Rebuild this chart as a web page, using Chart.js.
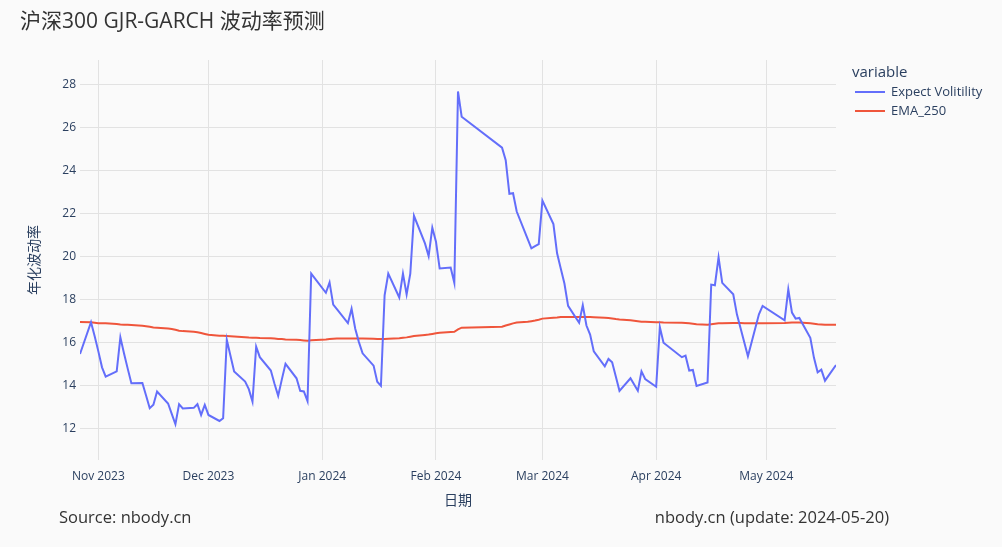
<!DOCTYPE html>
<html>
<head>
<meta charset="utf-8">
<script src="https://cdn.jsdelivr.net/npm/chart.js@4"></script>
<style>
    body { margin: 0; background: #fafafa; }
    canvas { display: block; }
</style>
</head>
<body>
<canvas id="volChart" width="1002" height="547"></canvas>
<script>
// trading days shown in the chart
const dates = [
    "2023-10-27", "2023-10-30", "2023-10-31", "2023-11-01", "2023-11-02", "2023-11-03",
    "2023-11-06", "2023-11-07", "2023-11-08", "2023-11-09", "2023-11-10",
    "2023-11-13", "2023-11-14", "2023-11-15", "2023-11-16", "2023-11-17",
    "2023-11-20", "2023-11-21", "2023-11-22", "2023-11-23", "2023-11-24",
    "2023-11-27", "2023-11-28", "2023-11-29", "2023-11-30", "2023-12-01",
    "2023-12-04", "2023-12-05", "2023-12-06", "2023-12-07", "2023-12-08",
    "2023-12-11", "2023-12-12", "2023-12-13", "2023-12-14", "2023-12-15",
    "2023-12-18", "2023-12-19", "2023-12-20", "2023-12-21", "2023-12-22",
    "2023-12-25", "2023-12-26", "2023-12-27", "2023-12-28", "2023-12-29",
    "2024-01-02", "2024-01-03", "2024-01-04", "2024-01-05",
    "2024-01-08", "2024-01-09", "2024-01-10", "2024-01-11", "2024-01-12",
    "2024-01-15", "2024-01-16", "2024-01-17", "2024-01-18", "2024-01-19",
    "2024-01-22", "2024-01-23", "2024-01-24", "2024-01-25", "2024-01-26",
    "2024-01-29", "2024-01-30", "2024-01-31", "2024-02-01", "2024-02-02",
    "2024-02-05", "2024-02-06", "2024-02-07", "2024-02-08",
    "2024-02-19", "2024-02-20", "2024-02-21", "2024-02-22", "2024-02-23",
    "2024-02-26", "2024-02-27", "2024-02-28", "2024-02-29", "2024-03-01",
    "2024-03-04", "2024-03-05", "2024-03-06", "2024-03-07", "2024-03-08",
    "2024-03-11", "2024-03-12", "2024-03-13", "2024-03-14", "2024-03-15",
    "2024-03-18", "2024-03-19", "2024-03-20", "2024-03-21", "2024-03-22",
    "2024-03-25", "2024-03-26", "2024-03-27", "2024-03-28", "2024-03-29",
    "2024-04-01", "2024-04-02", "2024-04-03",
    "2024-04-08", "2024-04-09", "2024-04-10", "2024-04-11", "2024-04-12",
    "2024-04-15", "2024-04-16", "2024-04-17", "2024-04-18", "2024-04-19",
    "2024-04-22", "2024-04-23", "2024-04-24", "2024-04-25", "2024-04-26",
    "2024-04-29", "2024-04-30",
    "2024-05-06", "2024-05-07", "2024-05-08", "2024-05-09", "2024-05-10",
    "2024-05-13", "2024-05-14", "2024-05-15", "2024-05-16", "2024-05-17",
    "2024-05-20"
];

const expectVol = [
    15.48, 16.95, 16.3, 15.6, 14.86, 14.43,
    14.67, 16.25, 15.5, 14.8, 14.12,
    14.13, 13.55, 12.96, 13.12, 13.74,
    13.18, 12.7, 12.22, 13.15, 12.95,
    12.98, 13.15, 12.65, 13.12, 12.65,
    12.37, 12.5, 16.14, 15.4, 14.67,
    14.2, 13.85, 13.27, 15.82, 15.33,
    14.71, 14.1, 13.54, 14.3, 15.02,
    14.35, 13.77, 13.74, 13.29, 19.21,
    18.32, 18.8, 17.77, 17.56,
    16.91, 17.58, 16.65, 16.03, 15.51,
    14.94, 14.19, 14.0, 18.2, 19.21,
    18.1, 19.21, 18.24, 19.21, 21.89,
    20.61, 20.02, 21.34, 20.69, 19.45,
    19.49, 18.78, 27.66, 26.49,
    25.05, 24.47, 22.91, 22.94, 22.09,
    20.81, 20.38, 20.48, 20.58, 22.6,
    21.51, 20.15, 19.45, 18.75, 17.71,
    16.93, 17.74, 16.8, 16.38, 15.6,
    14.91, 15.25, 15.09, 14.43, 13.77,
    14.35, 14.06, 13.77, 14.67, 14.32,
    13.96, 16.73, 16.0,
    15.33, 15.4, 14.71, 14.74, 14.0,
    14.16, 18.7, 18.67, 19.96, 18.78,
    18.25, 17.32, 16.67, 16.02, 15.37,
    17.32, 17.71,
    17.04, 18.48, 17.4, 17.12, 17.15,
    16.23, 15.3, 14.63, 14.75, 14.24,
    14.97
];

const ema250 = [
    16.96, 16.95, 16.93, 16.91, 16.91, 16.9,
    16.87, 16.85, 16.84, 16.83, 16.82,
    16.79, 16.77, 16.74, 16.71, 16.7,
    16.66, 16.64, 16.6, 16.56, 16.54,
    16.51, 16.49, 16.45, 16.41, 16.37,
    16.33, 16.32, 16.31, 16.3, 16.29,
    16.26, 16.24, 16.23, 16.23, 16.22,
    16.21, 16.2, 16.18, 16.17, 16.15,
    16.14, 16.13, 16.11, 16.09, 16.12,
    16.15, 16.17, 16.19, 16.2,
    16.2, 16.2, 16.2, 16.2, 16.2,
    16.19, 16.18, 16.17, 16.18, 16.19,
    16.21, 16.23, 16.25, 16.28, 16.31,
    16.36, 16.38, 16.41, 16.44, 16.46,
    16.5, 16.51, 16.62, 16.7,
    16.74, 16.8, 16.85, 16.9, 16.94,
    16.97, 17.0, 17.03, 17.07, 17.12,
    17.16, 17.17, 17.19, 17.2, 17.2,
    17.2, 17.2, 17.2, 17.19, 17.18,
    17.16, 17.15, 17.13, 17.1, 17.08,
    17.04, 17.02, 17.0, 16.98, 16.97,
    16.95, 16.95, 16.94,
    16.93, 16.92, 16.9, 16.88, 16.86,
    16.84, 16.86, 16.88, 16.9, 16.91,
    16.92, 16.92, 16.92, 16.91, 16.91,
    16.91, 16.91,
    16.92, 16.93, 16.94, 16.94, 16.94,
    16.9, 16.88, 16.86, 16.85, 16.84,
    16.84
];

const monthTicks = ["2023-11-01", "2023-12-01", "2024-01-01", "2024-02-01", "2024-03-01", "2024-04-01", "2024-05-01"];
const monthLabels = ["Nov 2023", "Dec 2023", "Jan 2024", "Feb 2024", "Mar 2024", "Apr 2024", "May 2024"];
const yTicks = [12, 14, 16, 18, 20, 22, 24, 26, 28];

const seriesNames = ["Expect Volitility", "EMA_250"];
const seriesColors = ["#636efa", "#EF553B"];

const FONT = '"Open Sans", "Noto Sans CJK SC", sans-serif';
const TEXT_COLOR = "#2a3f5f";

const toMs = (d) => Date.parse(d + "T00:00:00Z");

// background + titles, legend and footer text
const decorPlugin = {
    id: "decor",
    beforeDraw(chart) {
        const ctx = chart.ctx;
        ctx.save();
        ctx.fillStyle = "#fafafa";
        ctx.fillRect(0, 0, chart.width, chart.height);
        ctx.restore();
    },
    afterDraw(chart) {
        const ctx = chart.ctx;
        const area = chart.chartArea;
        ctx.save();
        ctx.textBaseline = "middle";

        ctx.fillStyle = "#333";
        ctx.font = "21px " + FONT;
        ctx.textAlign = "left";
        ctx.fillText("沪深300 GJR-GARCH 波动率预测", 20, 22);

        // y axis title
        ctx.fillStyle = TEXT_COLOR;
        ctx.font = "14px " + FONT;
        ctx.save();
        ctx.translate(35, (area.top + area.bottom) / 2);
        ctx.rotate(-Math.PI / 2);
        ctx.textAlign = "center";
        ctx.fillText("年化波动率", 0, 0);
        ctx.restore();

        // x axis title
        ctx.textAlign = "center";
        ctx.fillText("日期", (area.left + area.right) / 2, 501);

        // legend
        ctx.textAlign = "left";
        ctx.font = "15px " + FONT;
        ctx.fillText("variable", 852, 73);
        ctx.font = "13px " + FONT;
        seriesNames.forEach((name, i) => {
            const y = 92 + i * 19;
            ctx.strokeStyle = seriesColors[i];
            ctx.lineWidth = 2;
            ctx.beginPath();
            ctx.moveTo(855, y);
            ctx.lineTo(885, y);
            ctx.stroke();
            ctx.fillText(name, 891, y);
        });

        // footer
        ctx.fillStyle = "#333";
        ctx.font = "16.5px " + FONT;
        ctx.textAlign = "left";
        ctx.fillText("Source: nbody.cn", 59, 518);
        ctx.textAlign = "right";
        ctx.fillText("nbody.cn (update: 2024-05-20)", 889, 518);
        ctx.restore();
    }
};

function createChart() {
    const ctx = document.getElementById("volChart");
    const volPoints = dates.map((d, i) => ({ x: toMs(d), y: expectVol[i] }));
    const emaPoints = dates.map((d, i) => ({ x: toMs(d), y: ema250[i] }));

    new Chart(ctx, {
        type: "line",
        data: {
            datasets: [
                {
                    label: seriesNames[0],
                    data: volPoints,
                    borderColor: seriesColors[0],
                    borderWidth: 2,
                    pointRadius: 0,
                    tension: 0,
                    fill: false,
                },
                {
                    label: seriesNames[1],
                    data: emaPoints,
                    borderColor: seriesColors[1],
                    borderWidth: 2,
                    pointRadius: 0,
                    tension: 0,
                    fill: false,
                },
            ],
        },
        options: {
            responsive: false,
            animation: false,
            layout: {
                padding: { top: 60, right: 166, bottom: 0, left: 0 },
            },
            plugins: {
                legend: { display: false },
                title: { display: false },
                tooltip: { enabled: false },
            },
            scales: {
                x: {
                    type: "linear",
                    min: toMs(dates[0]),
                    max: toMs(dates[dates.length - 1]),
                    afterFit: (scale) => { scale.height = 87; },
                    afterBuildTicks: (scale) => {
                        scale.ticks = monthTicks.map((d) => ({ value: toMs(d) }));
                    },
                    ticks: {
                        autoSkip: false,
                        maxRotation: 0,
                        padding: 9,
                        color: TEXT_COLOR,
                        font: { family: FONT, size: 12 },
                        callback: (value, index) => monthLabels[index],
                    },
                    grid: { color: "#e2e2e2", drawTicks: false },
                    border: { display: false },
                },
                y: {
                    min: 10.56,
                    max: 29.12,
                    afterFit: (scale) => { scale.width = 80; },
                    afterBuildTicks: (scale) => {
                        scale.ticks = yTicks.map((v) => ({ value: v }));
                    },
                    ticks: {
                        padding: 4,
                        color: TEXT_COLOR,
                        font: { family: FONT, size: 12 },
                    },
                    grid: { color: "#e2e2e2", drawTicks: false },
                    border: { display: false },
                },
            },
        },
        plugins: [decorPlugin],
    });
}

document.addEventListener("DOMContentLoaded", createChart);
</script>
</body>
</html>
